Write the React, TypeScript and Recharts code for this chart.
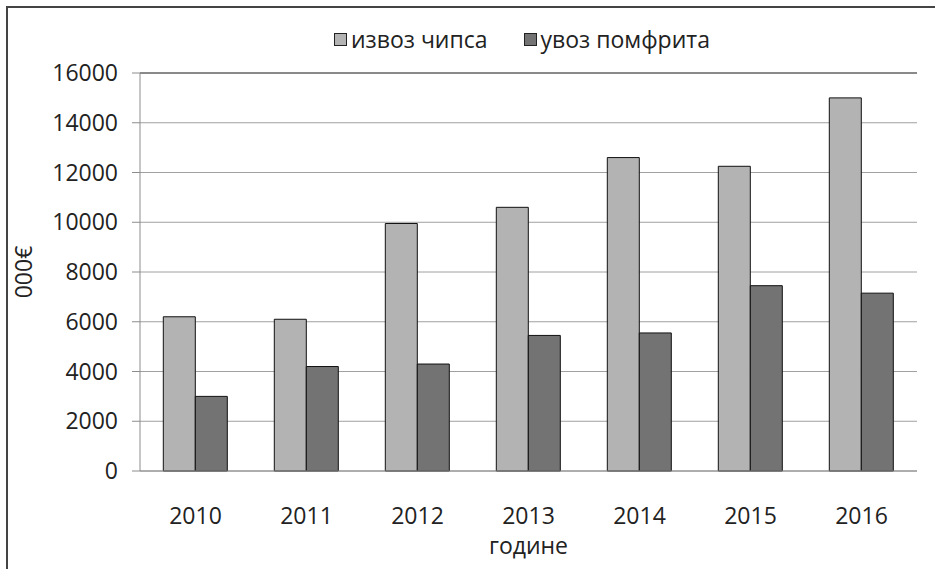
import React from 'react';
import { BarChart, Bar, XAxis, YAxis, CartesianGrid, Legend, ReferenceLine } from 'recharts';

const years = ['2010', '2011', '2012', '2013', '2014', '2015', '2016'];
const chipsExport = [6200, 6100, 9950, 10600, 12600, 12250, 15000];
const friesImport = [3000, 4200, 4300, 5450, 5550, 7450, 7150];
const yTicks = [0, 2000, 4000, 6000, 8000, 10000, 12000, 14000, 16000];
const boundaryTicks = [0, 1, 2, 3, 4, 5, 6, 7];
const seriesNames = ['извоз чипса', 'увоз помфрита'];
const seriesColors = ['#b3b3b3', '#737373'];
const yLabel = '000€';
const xLabel = 'године';

const FONT = '"Open Sans", sans-serif';
const TXT = '#222';

const data = years.map((y, i) => ({
  year: y,
  chips: chipsExport[i],
  fries: friesImport[i],
  pos: i + 0.5,
}));

const renderLegend = () => (
  <div style={{ display: 'flex', alignItems: 'center', fontFamily: FONT, fontSize: 23, lineHeight: '31px', height: 31, color: TXT, whiteSpace: 'nowrap' }}>
    {seriesNames.map((n, i) => (
      <div key={n} style={{ display: 'flex', alignItems: 'center', marginRight: i === 0 ? 36 : 0 }}>
        <span
          style={{
            display: 'inline-block',
            width: 13,
            height: 13,
            boxSizing: 'border-box',
            border: '1px solid #222',
            background: seriesColors[i],
            marginRight: 4,
          }}
        />
        <span>{n}</span>
      </div>
    ))}
  </div>
);

const YLabel = (props: any) => {
  const vb = props.viewBox || { x: 0, y: 0, width: 0, height: 0 };
  const cx = vb.x + 23;
  const cy = vb.y + vb.height / 2;
  return (
    <text
      x={cx}
      y={cy}
      transform={`rotate(-90 ${cx} ${cy})`}
      textAnchor="middle"
      dominantBaseline="central"
      fontFamily={FONT}
      fontSize={23}
      fill={TXT}
    >
      {yLabel}
    </text>
  );
};

export default function App() {
  return (
    <div style={{ position: 'absolute', left: 0, top: 0, width: 935, height: 569, overflow: 'hidden', background: '#fff' }}>
      <div
        style={{
          position: 'absolute',
          left: 6,
          top: 6,
          width: 1000,
          height: 700,
          border: '2px solid #444',
          boxSizing: 'border-box',
        }}
      />
      <div style={{ position: 'absolute', left: 0, top: 0 }}>
        <BarChart
          width={935}
          height={569}
          data={data}
          margin={{ top: 42, right: 18, left: 0, bottom: 0 }}
          barCategoryGap="21%"
          barGap={0}
        >
          <CartesianGrid vertical={false} stroke="#a0a0a0" strokeWidth={1} yAxisId="left" xAxisId="cat" />
          <XAxis
            xAxisId="bnd"
            type="number"
            dataKey="pos"
            domain={[0, 7]}
            ticks={boundaryTicks}
            tickFormatter={() => ''}
            tick={false}
            tickSize={9}
            height={10}
            axisLine={{ stroke: '#8c8c8c' }}
            tickLine={{ stroke: '#8c8c8c' }}
            allowDataOverflow
          />
          <XAxis
            xAxisId="cat"
            dataKey="year"
            height={88}
            tickLine={false}
            axisLine={false}
            tickSize={0}
            tickMargin={27}
            tick={{ fontFamily: FONT, fontSize: 23, fill: TXT }}
            label={{ value: xLabel, position: 'insideBottom', offset: 15, fontFamily: FONT, fontSize: 23, fill: TXT }}
          />
          <YAxis
            yAxisId="left"
            domain={[0, 16000]}
            ticks={yTicks}
            width={140}
            tickSize={8}
            tickMargin={14}
            axisLine={{ stroke: '#8c8c8c' }}
            tickLine={{ stroke: '#8c8c8c' }}
            tick={{ fontFamily: FONT, fontSize: 23, fill: TXT }}
            interval={0}
            label={<YLabel />}
          />
          <YAxis
            yAxisId="right"
            orientation="right"
            domain={[0, 16000]}
            width={0}
            tick={false}
            tickLine={false}
            axisLine={{ stroke: '#444' }}
          />
          <ReferenceLine yAxisId="left" xAxisId="cat" y={16000} stroke="#444" strokeWidth={1} />
          <Legend
            content={renderLegend}
            verticalAlign="top"
            wrapperStyle={{ position: 'absolute', top: 24, left: 334, width: 'auto', height: 31 }}
          />
          <Bar
            xAxisId="cat"
            yAxisId="left"
            dataKey="chips"
            name={seriesNames[0]}
            fill={seriesColors[0]}
            stroke="#111"
            strokeWidth={1}
            isAnimationActive={false}
          />
          <Bar
            xAxisId="cat"
            yAxisId="left"
            dataKey="fries"
            name={seriesNames[1]}
            fill={seriesColors[1]}
            stroke="#111"
            strokeWidth={1}
            isAnimationActive={false}
          />
        </BarChart>
      </div>
    </div>
  );
}
